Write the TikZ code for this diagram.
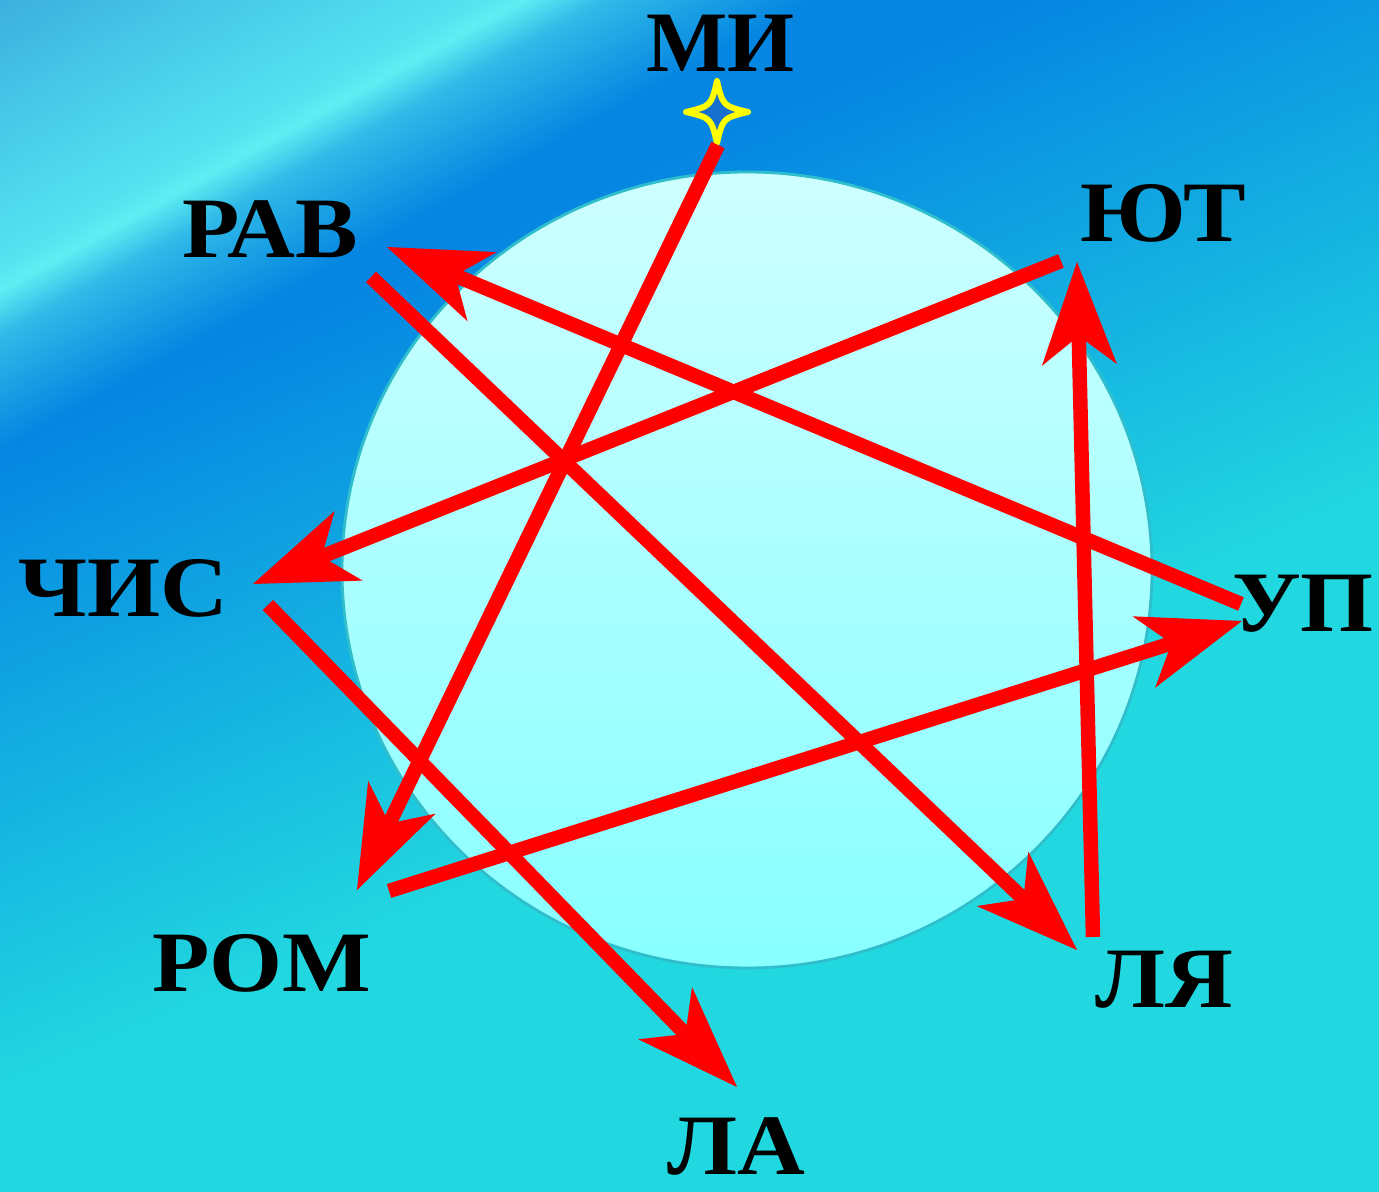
\documentclass[tikz,border=0pt]{standalone}
\usepackage{fontspec}
\setmainfont{Liberation Serif}
\newfontfamily\wordfont{Liberation Serif}[FakeStretch=1.09]
\usetikzlibrary{arrows.meta}
\definecolor{deepblue}{RGB}{5,134,226}
\definecolor{seacyan}{RGB}{34,216,224}
\definecolor{streakdim}{RGB}{26,160,228}
\definecolor{streakmid}{RGB}{48,186,232}
\definecolor{streakhi}{RGB}{94,238,242}
\definecolor{streakup}{RGB}{84,226,240}
\definecolor{streaklo}{RGB}{70,200,232}
\definecolor{cornerblue}{RGB}{56,164,218}
\definecolor{disctop}{RGB}{206,255,255}
\definecolor{discbot}{RGB}{136,255,255}
\definecolor{discedge}{RGB}{48,190,204}
\definecolor{starfill}{RGB}{24,112,206}
\definecolor{sparkyellow}{RGB}{255,255,0}
\definecolor{arrowred}{RGB}{255,0,0}
\pgfdeclareverticalshading{seabg}{100bp}{color(0bp)=(seacyan); color(25bp)=(seacyan); color(47.3bp)=(seacyan); color(63.9bp)=(deepblue); color(75bp)=(deepblue); color(100bp)=(deepblue)}
\pgfdeclareverticalshading{streakband}{100bp}{color(0bp)=(deepblue); color(25bp)=(deepblue); color(30.7bp)=(streakdim); color(36.4bp)=(streakmid); color(40.9bp)=(streakhi); color(43.8bp)=(streakup); color(58bp)=(streaklo); color(75bp)=(cornerblue); color(100bp)=(cornerblue)}
\begin{document}
\begin{tikzpicture}[
		word/.style={font=\wordfont\fontsize{24.5}{29}\selectfont\bfseries, inner sep=0pt, anchor=base},
		redarrow/.style={draw=arrowred, line width=1.45mm, -{Stealth[length=10.3mm, width=7.5mm, inset=2.9mm, line width=0pt]}}
	]
		\useasboundingbox (0,0) rectangle (13.79,11.92);

		% background with the light streak
		\begin{scope}
			\clip (0,0) rectangle (13.79,11.92);
			\begin{scope}[transform canvas={shift={(0,7.42)}, rotate=23.5}]
				\shade[shading=seabg] (-6,-14) rectangle (18,4);
			\end{scope}
			\begin{scope}[transform canvas={shift={(0,9.02)}, rotate=29}]
				\shade[shading=streakband] (-6,-1.4) rectangle (18,3);
			\end{scope}
		\end{scope}

		% disc
		\coordinate (disccentre) at (7.47,6.22);
		\shade[top color=disctop, bottom color=discbot, draw=discedge, line width=0.8pt] (disccentre) ellipse [x radius=4.05, y radius=3.98];

		% spark under the top word
		\coordinate (spark) at (7.17,10.80);
		\begin{scope}[shift={(spark)}]
			\draw[sparkyellow, fill=starfill, line width=0.6mm, line join=round]
				(0,0.31) .. controls (0.06,0.06) .. (0.31,0)
				.. controls (0.06,-0.06) .. (0,-0.31)
				.. controls (-0.06,-0.06) .. (-0.31,0)
				.. controls (-0.06,0.06) .. cycle;
		\end{scope}

		% words
		\node[word, font=\fontsize{24.5}{29}\selectfont\bfseries] (mi) at (7.205,11.20) {МИ};
		\node[word] (rav) at (2.70,9.34) {РАВ};
		\node[word] (yut) at (11.63,9.50) {ЮТ};
		\node[word] (chis) at (1.23,5.75) {ЧИС};
		\node[word] (up) at (13.03,5.60) {УП};
		\node[word] (rom) at (2.62,2.00) {РОМ};
		\node[word] (lya) at (11.64,1.84) {ЛЯ};
		\node[word] (la) at (7.36,0.17) {ЛА};

		% arrow ends
		\coordinate (miFrom) at (7.18,10.47);
		\coordinate (romTo) at (3.57,3.02);
		\coordinate (ravFrom) at (3.71,9.15);
		\coordinate (lyaTo) at (10.77,2.42);
		\coordinate (upFrom) at (12.41,5.88);
		\coordinate (ravTo) at (3.87,9.45);
		\coordinate (yutFrom) at (10.61,9.31);
		\coordinate (chisTo) at (2.53,6.08);
		\coordinate (chisFrom) at (2.68,5.87);
		\coordinate (laTo) at (7.37,1.05);
		\coordinate (romFrom) at (3.89,3.01);
		\coordinate (upTo) at (12.42,5.71);
		\coordinate (lyaFrom) at (10.93,2.55);
		\coordinate (yutTo) at (10.77,9.30);

		\draw[redarrow] (miFrom) -- (romTo);
		\draw[redarrow] (ravFrom) -- (lyaTo);
		\draw[redarrow] (upFrom) -- (ravTo);
		\draw[redarrow] (yutFrom) -- (chisTo);
		\draw[redarrow] (chisFrom) -- (laTo);
		\draw[redarrow] (romFrom) -- (upTo);
		\draw[redarrow] (lyaFrom) -- (yutTo);
	\end{tikzpicture}
\end{document}
